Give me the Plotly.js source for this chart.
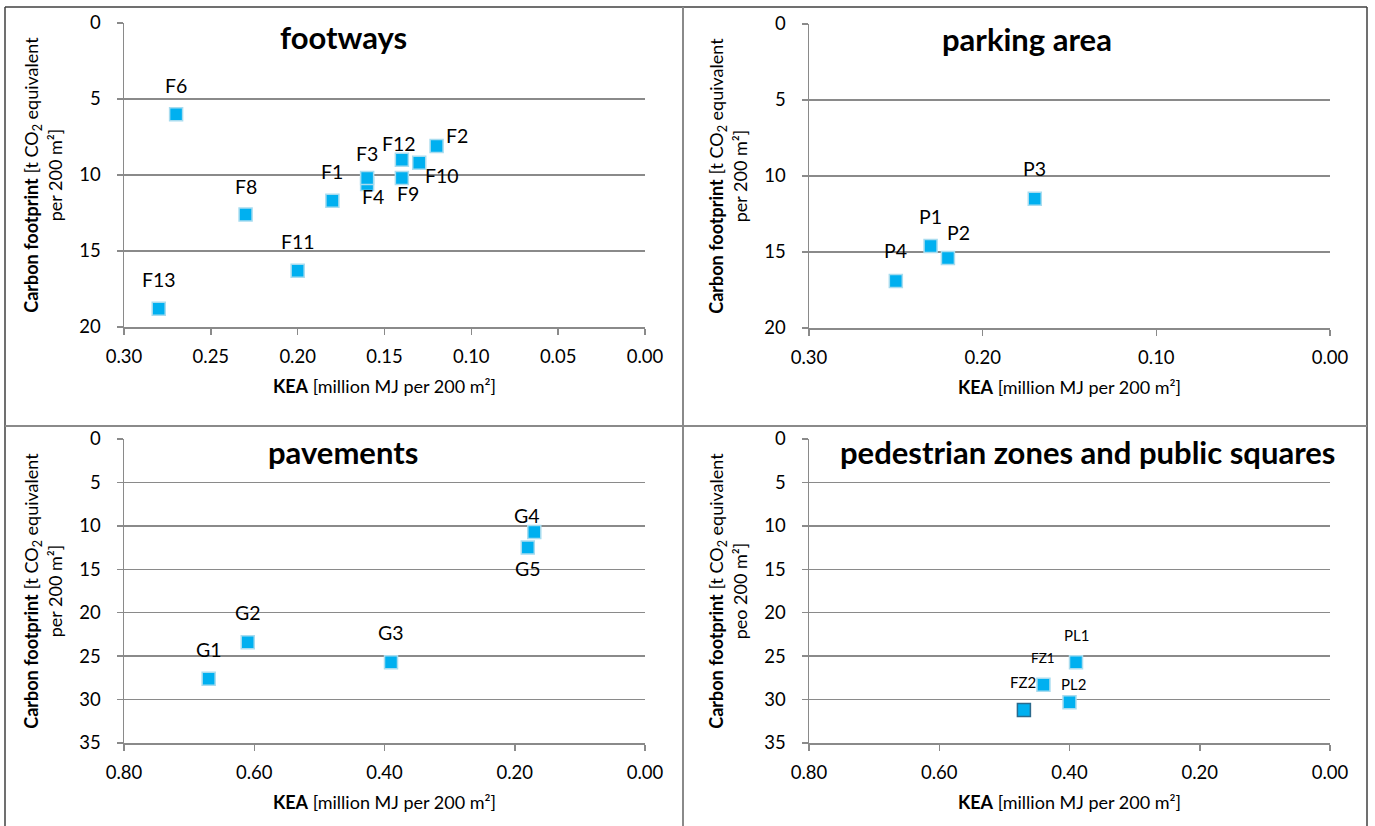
<!DOCTYPE html>
<html>
<head>
<meta charset="utf-8">
<script src="https://cdn.plot.ly/plotly-3.0.1.min.js"></script>
<style>
  html, body { margin: 0; padding: 0; background: #ffffff; }
  #chart { width: 1375px; height: 826px; }
</style>
</head>
<body>
<div id="chart"></div>
<script>
// ---- data -------------------------------------------------------------
// footways
const footwayNames = ['F1', 'F2', 'F4', 'F3', 'F6', 'F8', 'F9', 'F10', 'F11', 'F12', 'F13'];
const footwayKEA   = [0.18, 0.12, 0.16, 0.16, 0.27, 0.23, 0.14, 0.13, 0.20, 0.14, 0.28];
const footwayCF    = [11.7, 8.1, 10.6, 10.2, 6.0, 12.6, 10.2, 9.2, 16.3, 9.0, 18.8];

// parking area
const parkingNames = ['P1', 'P2', 'P3', 'P4'];
const parkingKEA   = [0.23, 0.22, 0.17, 0.25];
const parkingCF    = [14.6, 15.4, 11.5, 16.9];

// pavements
const pavementNames = ['G1', 'G2', 'G3', 'G4', 'G5'];
const pavementKEA   = [0.67, 0.61, 0.39, 0.17, 0.18];
const pavementCF    = [27.6, 23.4, 25.7, 10.7, 12.5];

// pedestrian zones and public squares
const plazaNames = ['PL1', 'PL2', 'FZ1', 'FZ2'];
const plazaKEA   = [0.39, 0.40, 0.44, 0.47];
const plazaCF    = [25.7, 30.3, 28.3, 31.2];

// panel titles, axis titles and axis tick values
const panelTitles = ['footways', 'parking area', 'pavements', 'pedestrian zones and public squares'];
const xTitle = '<b>KEA</b> [million MJ per 200 m²]';
const yTitles = [
  '<b>Carbon footprint</b> [t CO<sub>2</sub> equivalent<br>per 200 m²]',
  '<b>Carbon footprint</b> [t CO<sub>2</sub> equivalent<br>per 200 m²]',
  '<b>Carbon footprint</b> [t CO<sub>2</sub> equivalent<br>per 200 m²]',
  '<b>Carbon footprint</b> [t CO<sub>2</sub> equivalent<br>peo 200 m²]'
];
const xTicksSmall = [0.30, 0.25, 0.20, 0.15, 0.10, 0.05, 0.00];
const xTicksMid   = [0.30, 0.20, 0.10, 0.00];
const xTicksLarge = [0.80, 0.60, 0.40, 0.20, 0.00];
const yTicks20    = [0, 5, 10, 15, 20];
const yTicks35    = [0, 5, 10, 15, 20, 25, 30, 35];

// ---- page geometry (pixels) ---------------------------------------------
const W = 1375, H = 826;
const px = v => v / W;            // horizontal pixel -> paper
const py = v => 1 - v / H;        // vertical pixel (from top) -> paper

const FONT = 'Lato, "Open Sans", sans-serif';
const GRID = '#8a8a8a';
const BLUE = '#00b0f0';

// offsets of point labels from their markers (px, screen direction)
const labelShift = {
  F1: [0, -29], F2: [20, -11], F3: [0, -25], F4: [6, 12], F6: [0, -29], F8: [0, -28],
  F9: [6, 15], F10: [23, 13], F11: [0, -29], F12: [-3, -16], F13: [0, -29],
  P1: [0, -29], P2: [11, -26], P3: [0, -30], P4: [0, -30],
  G1: [0, -29], G2: [0, -30], G3: [0, -30], G4: [-7, -16], G5: [0, 21],
  PL1: [0, -27], PL2: [4, -18], FZ1: [0, -27], FZ2: [-1, -28]
};

// panels: pixel boxes of each plot area
const panels = [
  { names: footwayNames,  xs: footwayKEA,  ys: footwayCF,  xr: [0.30, 0], ymax: 20, xt: xTicksSmall, yt: yTicks20,
    box: [124, 645, 23, 327], title: [343, 37], labelSize: 19.5 },
  { names: parkingNames,  xs: parkingKEA,  ys: parkingCF,  xr: [0.30, 0], ymax: 20, xt: xTicksMid,   yt: yTicks20,
    box: [809, 1330, 24, 328], title: [1027, 39], labelSize: 19.5 },
  { names: pavementNames, xs: pavementKEA, ys: pavementCF, xr: [0.80, 0], ymax: 35, xt: xTicksLarge, yt: yTicks35,
    box: [124, 645, 439, 743], title: [343, 452], labelSize: 19.5 },
  { names: plazaNames,    xs: plazaKEA,    ys: plazaCF,    xr: [0.80, 0], ymax: 35, xt: xTicksLarge, yt: yTicks35,
    box: [809, 1330, 439, 743], title: [1087, 452], labelSize: 15 }
];

const traces = [];
const annotations = [];
const layout = {
  width: W, height: H,
  margin: { l: 0, r: 0, t: 0, b: 0 },
  paper_bgcolor: '#ffffff',
  plot_bgcolor: '#ffffff',
  showlegend: false,
  font: { family: FONT, size: 18, color: '#000000' },
  annotations: annotations,
  shapes: []
};

panels.forEach((p, i) => {
  const n = i === 0 ? '' : String(i + 1);
  const xa = 'xaxis' + n, ya = 'yaxis' + n;
  const xid = 'x' + n, yid = 'y' + n;
  const [x0, x1, y0, y1] = p.box;

  layout[xa] = {
    domain: [px(x0), px(x1)],
    anchor: yid,
    range: p.xr,
    title: { text: xTitle, font: { family: FONT, size: 18, color: '#000000' }, standoff: 14 },
    tickmode: 'array',
    tickvals: p.xt,
    ticktext: p.xt.map(v => v.toFixed(2)),
    showgrid: false,
    zeroline: false,
    showline: true,
    linecolor: GRID,
    linewidth: 1.5,
    ticks: 'outside',
    ticklen: 6,
    tickwidth: 1.5,
    tickcolor: GRID,
    ticklabelstandoff: 6,
    tickfont: { family: FONT, size: 18.5, color: '#000000' },
    fixedrange: true
  };
  layout[ya] = {
    domain: [py(y1), py(y0)],
    anchor: xid,
    range: [p.ymax, 0],
    title: { text: yTitles[i], font: { family: FONT, size: 18, color: '#000000' }, standoff: 12 },
    tickmode: 'array',
    tickvals: p.yt,
    showgrid: true,
    gridcolor: GRID,
    gridwidth: 1.5,
    zeroline: false,
    showline: true,
    linecolor: GRID,
    linewidth: 1.5,
    ticks: 'outside',
    ticklen: 6,
    tickwidth: 1.5,
    tickcolor: GRID,
    ticklabelstandoff: 12,
    tickfont: { family: FONT, size: 18.5, color: '#000000' },
    fixedrange: true
  };

  traces.push({
    type: 'scatter',
    mode: 'markers',
    x: p.xs,
    y: p.ys,
    text: p.names,
    xaxis: xid,
    yaxis: yid,
    hoverinfo: 'text',
    marker: {
      symbol: 'square',
      size: 13,
      color: BLUE,
      line: {
        width: 1.5,
        color: p.names.map(nm => nm === 'FZ2' ? '#2c6a8c' : '#a8dcef')
      }
    }
  });

  // point labels
  p.names.forEach((nm, k) => {
    const s = labelShift[nm] || [0, -28];
    annotations.push({
      xref: xid, yref: yid,
      x: p.xs[k], y: p.ys[k],
      text: nm,
      showarrow: false,
      xanchor: 'center', yanchor: 'middle',
      xshift: s[0], yshift: -s[1],
      font: { family: FONT, size: nm === 'FZ1' ? 13.5 : p.labelSize, color: '#000000' }
    });
  });

  // panel title
  annotations.push({
    xref: 'paper', yref: 'paper',
    x: px(p.title[0]), y: py(p.title[1]),
    text: '<b>' + panelTitles[i] + '</b>',
    showarrow: false,
    xanchor: 'center', yanchor: 'middle',
    font: { family: FONT, size: 31, color: '#000000' }
  });
});

// frame lines around and between the four panels
const frame = (xa, ya, xb, yb, color, width) => ({
  type: 'line', xref: 'paper', yref: 'paper',
  x0: px(xa), y0: py(ya), x1: px(xb), y1: py(yb),
  line: { color: color, width: width }, layer: 'above'
});
layout.shapes.push(
  frame(5, 7, 1367, 7, '#404040', 1.5),
  frame(5, 7, 5, 826, '#404040', 1.5),
  frame(1367, 7, 1367, 826, '#404040', 1.5),
  frame(683, 7, 683, 826, '#8a8a8a', 2),
  frame(5, 426, 1367, 426, '#8a8a8a', 2)
);

Plotly.newPlot('chart', traces, layout, { staticPlot: true, displayModeBar: false });
</script>
</body>
</html>
